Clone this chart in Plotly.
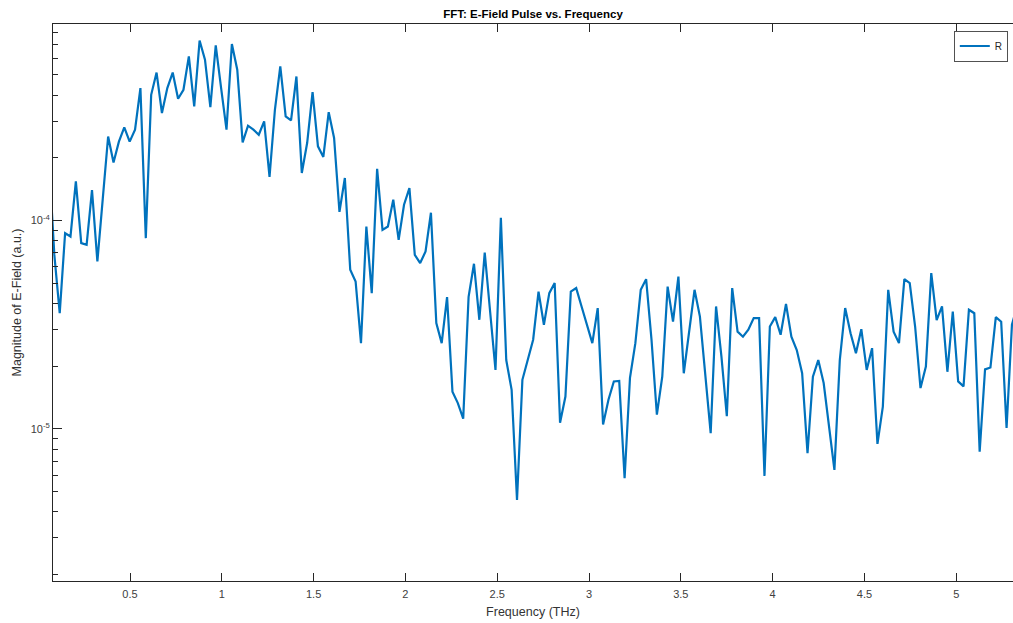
import math
import plotly.graph_objects as go

# Frequency bins (THz): FFT grid, bin index n = 2..182
df_thz = 0.0293
bin_index = list(range(2, 183))
freq_thz = [n * df_thz for n in bin_index]

# Magnitude of E-field (a.u.), one per bin
magnitude = [
    1.96e-4, 6.84e-5, 3.59e-5, 8.70e-5, 8.38e-5, 1.54e-4, 7.79e-5, 7.64e-5, 1.40e-4, 6.36e-5,
    1.27e-4, 2.53e-4, 1.90e-4, 2.39e-4, 2.80e-4, 2.39e-4, 2.73e-4, 4.32e-4, 8.23e-5, 4.01e-4,
    5.13e-4, 3.28e-4, 4.32e-4, 5.13e-4, 3.84e-4, 4.24e-4, 6.13e-4, 3.53e-4, 7.31e-4, 5.91e-4,
    3.50e-4, 6.92e-4, 4.32e-4, 2.73e-4, 7.03e-4, 5.29e-4, 2.37e-4, 2.85e-4, 2.73e-4, 2.58e-4,
    2.99e-4, 1.62e-4, 3.40e-4, 5.49e-4, 3.16e-4, 3.02e-4, 4.91e-4, 1.69e-4, 2.36e-4, 4.13e-4,
    2.27e-4, 2.02e-4, 3.31e-4, 2.49e-4, 1.10e-4, 1.60e-4, 5.80e-5, 5.10e-5, 2.58e-5, 9.36e-5,
    4.48e-5, 1.77e-4, 9.02e-5, 9.36e-5, 1.26e-4, 8.08e-5, 1.19e-4, 1.43e-4, 6.84e-5, 6.25e-5,
    7.10e-5, 1.09e-4, 3.22e-5, 2.58e-5, 4.29e-5, 1.51e-5, 1.33e-5, 1.12e-5, 4.30e-5, 6.20e-5,
    3.34e-5, 7.02e-5, 3.66e-5, 1.92e-5, 1.03e-4, 2.14e-5, 1.54e-5, 4.56e-6, 1.72e-5, 2.14e-5,
    2.68e-5, 4.56e-5, 3.16e-5, 4.48e-5, 5.01e-5, 1.07e-5, 1.43e-5, 4.56e-5, 4.74e-5, 3.87e-5,
    3.16e-5, 2.58e-5, 3.80e-5, 1.05e-5, 1.38e-5, 1.69e-5, 1.70e-5, 5.80e-6, 1.76e-5, 2.58e-5,
    4.65e-5, 5.23e-5, 2.68e-5, 1.17e-5, 1.78e-5, 4.82e-5, 3.27e-5, 5.38e-5, 1.85e-5, 2.88e-5,
    4.65e-5, 3.46e-5, 1.85e-5, 9.54e-6, 3.87e-5, 2.22e-5, 1.15e-5, 4.74e-5, 2.93e-5, 2.77e-5,
    2.99e-5, 3.40e-5, 3.40e-5, 5.95e-6, 3.10e-5, 3.44e-5, 2.83e-5, 3.98e-5, 2.77e-5, 2.39e-5,
    1.85e-5, 7.64e-6, 1.78e-5, 2.14e-5, 1.66e-5, 1.03e-5, 6.36e-6, 2.14e-5, 3.80e-5, 2.88e-5,
    2.31e-5, 3.01e-5, 1.92e-5, 2.44e-5, 8.47e-6, 1.28e-5, 4.65e-5, 2.93e-5, 2.58e-5, 5.23e-5,
    5.01e-5, 3.10e-5, 1.57e-5, 1.99e-5, 5.59e-5, 3.33e-5, 3.87e-5, 1.88e-5, 3.66e-5, 1.69e-5,
    1.60e-5, 3.73e-5, 3.59e-5, 7.78e-6, 1.93e-5, 1.97e-5, 3.44e-5, 3.27e-5, 1.01e-5, 3.16e-5,
    3.94e-5,
]

x_limits = [0.0806, 5.309]
y_limits = [1.863e-6, 8.77e-4]
x_ticks = [0.5, 1, 1.5, 2, 2.5, 3, 3.5, 4, 4.5, 5]
x_tick_text = ["0.5", "1", "1.5", "2", "2.5", "3", "3.5", "4", "4.5", "5"]
y_ticks = [1e-5, 1e-4]
y_tick_text = ["10<sup>-5</sup>", "10<sup>-4</sup>"]
y_minor = [m * 10.0 ** e for e in (-6, -5, -4) for m in range(2, 10)]

axis_col = "#262626"
font_fam = "Liberation Sans, Arial, sans-serif"
y_log_range = [math.log10(y_limits[0]), math.log10(y_limits[1])]

fig = go.Figure()
fig.add_trace(go.Scatter(
    x=freq_thz, y=magnitude, mode="lines", name="R",
    line=dict(color="#0072BD", width=2.2),
))

fig.update_layout(
    width=1013, height=623,
    margin=dict(l=53, r=0, t=24, b=42),
    paper_bgcolor="white", plot_bgcolor="white",
    font=dict(family=font_fam, color="#404040", size=11),
    title=dict(text="<b>FFT: E-Field Pulse vs. Frequency</b>",
               x=(53 + 1013) / 2 / 1013, xanchor="center",
               y=1 - 14 / 623, yanchor="middle",
               font=dict(size=11.5, color="#000000", family=font_fam)),
    showlegend=True,
    legend=dict(x=0.9948, xanchor="right", y=0.988, yanchor="top",
                bgcolor="white", bordercolor=axis_col, borderwidth=0.8,
                font=dict(size=10, color="#262626"),
                itemwidth=30, tracegroupgap=0),
)

fig.update_xaxes(
    type="linear", range=x_limits,
    tickmode="array", tickvals=x_ticks, ticktext=x_tick_text,
    ticks="inside", ticklen=8, tickwidth=1, tickcolor=axis_col,
    showline=True, linecolor=axis_col, linewidth=1, mirror="ticks",
    showgrid=False, zeroline=False,
    tickfont=dict(size=11, color="#404040"), ticklabelstandoff=3,
    title=dict(text="Frequency (THz)", font=dict(size=12.5, color="#333333"), standoff=8),
)
fig.update_yaxes(
    type="log", range=y_log_range,
    tickmode="array", tickvals=y_ticks, ticktext=y_tick_text,
    ticks="inside", ticklen=9, tickwidth=1, tickcolor=axis_col,
    minor=dict(tickmode="array", tickvals=y_minor, ticks="inside", ticklen=5,
               tickcolor=axis_col, showgrid=False),
    showline=True, linecolor=axis_col, linewidth=1, mirror=False,
    showgrid=False, zeroline=False,
    tickfont=dict(size=11, color="#404040"),
    title=dict(text="Magnitude of E-Field (a.u.)", font=dict(size=12.5, color="#333333"), standoff=6),
)

fig.write_html("out.html")
